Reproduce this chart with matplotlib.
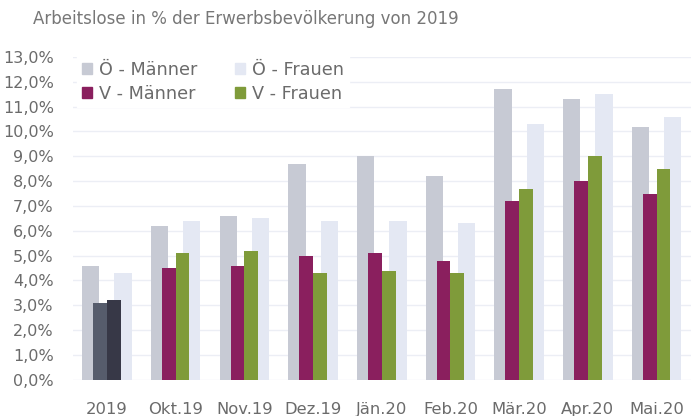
import numpy as np
import matplotlib.pyplot as plt
from matplotlib.ticker import FuncFormatter

plt.rcParams['font.family'] = ['DejaVu Sans']

# Data: unemployment rate (%), Austria (Ö) vs. Vorarlberg (V)
categories = ["2019", "Okt.19", "Nov.19", "Dez.19", "Jän.20", "Feb.20", "Mär.20", "Apr.20", "Mai.20"]
oe_maenner = [4.6, 6.2, 6.6, 8.7, 9.0, 8.2, 11.7, 11.3, 10.2]
oe_frauen = [4.3, 6.4, 6.5, 6.4, 6.4, 6.3, 10.3, 11.5, 10.6]
v_maenner = [3.1, 4.5, 4.6, 5.0, 5.1, 4.8, 7.2, 8.0, 7.5]
v_frauen = [3.2, 5.1, 5.2, 4.3, 4.4, 4.3, 7.7, 9.0, 8.5]

c_oem = "#c7cad4"
c_oef = "#e4e8f3"
c_vm = "#8a1f5e"
c_vf = "#7f9b3a"
c_vm19 = "#565c6c"
c_vf19 = "#373847"
txt = "#6b6b6b"

x = np.arange(len(categories))

fig = plt.figure(figsize=(6.91, 4.16), dpi=100)
ax = fig.add_axes([0.106, 0.087, 0.896, 0.776])

ax.bar(x - 0.235, oe_maenner, width=0.25, color=c_oem, zorder=2)
ax.bar(x + 0.235, oe_frauen, width=0.25, color=c_oef, zorder=2)
vm_colors = [c_vm19] + [c_vm] * (len(x) - 1)
vf_colors = [c_vf19] + [c_vf] * (len(x) - 1)
ax.bar(x - 0.1, v_maenner, width=0.2, color=vm_colors, zorder=3)
ax.bar(x + 0.1, v_frauen, width=0.2, color=vf_colors, zorder=3)

ax.set_ylim(0, 13)
ax.set_xlim(-0.49, len(x) - 0.48)
ax.set_yticks(np.arange(0, 14, 1))
ax.yaxis.set_major_formatter(FuncFormatter(lambda v, p: f"{v:.1f}%".replace(".", ",")))
ax.set_xticks(x)
ax.set_xticklabels(categories, fontsize=11.8)
ax.grid(axis="y", color="#eceef5", linewidth=1, zorder=0)
ax.set_axisbelow(True)
for s in ax.spines.values():
    s.set_visible(False)
ax.tick_params(axis="both", length=0, colors=txt)
ax.tick_params(axis="y", labelsize=11.5, pad=14)
ax.tick_params(axis="x", pad=16)

handles = [
    plt.Rectangle((0, 0), 1, 1, color=c_oem),
    plt.Rectangle((0, 0), 1, 1, color=c_vm),
    plt.Rectangle((0, 0), 1, 1, color=c_oef),
    plt.Rectangle((0, 0), 1, 1, color=c_vf),
]
labels = ["Ö - Männer", "V - Männer", "Ö - Frauen", "V - Frauen"]
leg = ax.legend(handles, labels, ncol=2, loc="upper left", bbox_to_anchor=(-0.008, 1.03),
                frameon=True, fancybox=False, edgecolor="white", facecolor="white",
                framealpha=1, fontsize=12.7, handlelength=0.6, handleheight=0.6,
                handletextpad=0.4, columnspacing=2.1, labelspacing=0.35,
                borderpad=0.25, labelcolor=txt)
leg.set_zorder(5)

fig.text(0.048, 0.955, "Arbeitslose in % der Erwerbsbevölkerung von 2019",
         color="#777777", fontsize=12, ha="left", va="center")

fig.savefig("out.png", dpi=100)
